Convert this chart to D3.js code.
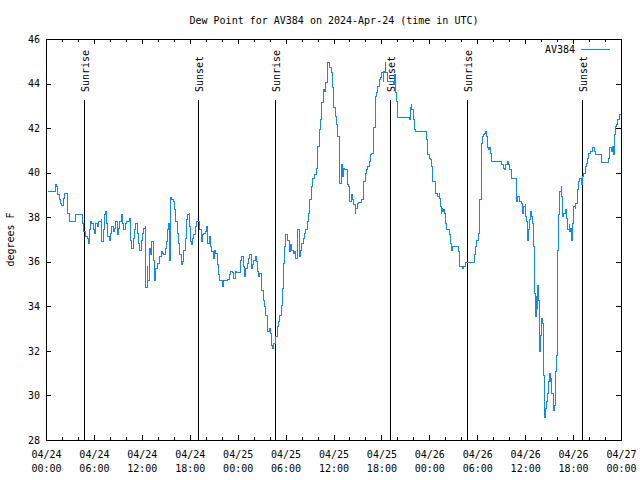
<!DOCTYPE html>
<html>
<head>
<meta charset="utf-8">
<script src="https://cdn.jsdelivr.net/npm/d3@7/dist/d3.min.js"></script>
<style>
  html, body { margin: 0; padding: 0; background: #fff; }
  svg { display: block; }
  text { font-family: "DejaVu Sans Mono", "Liberation Mono", monospace; font-size: 10px; fill: #000; }
</style>
</head>
<body>
<svg id="chart" width="640" height="480"></svg>
<script>
// ---- data ----
const chartTitle = "Dew Point for AV384 on 2024-Apr-24 (time in UTC)";
const yLabel = "degrees F";
const seriesName = "AV384";
const startTime = "2024-04-24T00:00:00Z";
const spanHours = 72;
const yTicks = [28, 30, 32, 34, 36, 38, 40, 42, 44, 46];
// sun events (hours after start)
const eventNames = ["Sunrise", "Sunset", "Sunrise", "Sunset", "Sunrise", "Sunset"];
const eventHours = [4.75, 19.03, 28.72, 43.07, 52.70, 67.12];
// [hours after start, dew point °F]
const dewPoint = [
[0.25,39.19],[1.00,39.19],[1.09,39.51],[1.25,39.40],[1.42,39.03],[1.59,38.80],[1.75,38.65],[1.92,38.53],[2.09,38.88],[2.25,39.10],[2.50,39.10],[2.59,38.65],[2.67,38.17],[2.84,37.82],[3.51,37.82],[3.59,38.13],[4.42,38.13],[4.51,37.75],[4.67,37.38],[4.84,37.15],[5.09,37.08],[5.26,36.85],[5.43,37.45],[5.51,37.82],[5.68,37.75],[5.84,37.45],[6.01,37.30],[6.18,37.75],[6.35,37.60],[6.51,37.82],[6.68,37.82],[6.85,37.90],[6.93,36.93],[7.10,37.45],[7.26,38.13],[7.35,38.28],[7.51,37.75],[7.68,37.15],[7.85,37.00],[8.01,37.30],[8.18,37.60],[8.35,37.38],[8.51,37.53],[8.68,37.82],[8.85,37.23],[9.02,37.53],[9.18,37.82],[9.35,38.13],[9.52,37.75],[9.68,37.45],[9.85,37.75],[10.02,37.82],[10.18,37.82],[10.35,37.98],[10.52,37.00],[10.69,36.63],[10.85,37.08],[11.02,37.45],[11.19,37.75],[11.35,37.30],[11.52,36.85],[11.69,36.55],[11.86,37.00],[12.02,37.30],[12.19,37.53],[12.36,37.60],
[12.44,34.87],[12.61,35.80],[12.69,35.20],[12.86,36.63],[13.02,36.33],[13.19,36.93],[13.36,36.10],[13.52,35.20],[13.69,35.73],[13.86,35.95],[14.02,35.95],[14.19,36.25],[14.36,36.48],[14.53,36.40],[14.69,36.33],[14.86,36.63],[15.03,36.93],[15.19,37.45],[15.28,37.75],[15.36,37.30],[15.44,36.10],[15.53,38.90],[15.69,38.80],[15.86,38.73],[16.03,38.35],[16.20,37.82],[16.36,37.30],[16.53,36.85],[16.70,36.33],[16.86,35.88],[17.03,36.03],[17.20,36.55],[17.36,37.08],[17.53,37.90],[17.70,38.13],[17.87,38.20],[17.95,37.60],[18.03,36.93],[18.12,36.78],[18.28,37.08],[18.45,37.23],[18.62,37.60],[18.78,37.82],[19.03,37.82],[19.20,37.45],
[19.37,36.93],[19.53,37.23],[19.70,37.30],[19.87,37.38],[20.04,37.60],[20.20,36.85],[20.37,37.15],[20.54,36.70],[20.70,36.48],[20.87,36.18],[21.04,36.55],[21.20,36.40],[21.37,35.88],[21.54,35.43],[21.71,35.20],[21.87,35.20],[22.04,34.90],[22.21,35.20],[22.37,35.20],[22.63,35.23],[22.87,35.43],[23.04,35.58],[23.29,35.53],[23.46,35.28],[23.62,35.58],[23.79,35.55],[24.13,35.55],[24.29,36.10],[24.46,36.25],[24.63,35.80],[24.79,35.35],[24.96,35.73],[25.13,35.95],[25.29,36.18],[25.46,36.33],[25.63,35.73],[25.80,35.88],[25.96,36.10],[26.13,36.25],[26.30,36.03],[26.38,35.58],[26.55,35.35],[26.71,35.50],[26.88,35.13],[26.97,34.75],[27.13,34.30],[27.30,34.00],[27.47,33.63],[27.63,33.25],[27.71,32.88],[27.88,33.03],[28.05,32.80],[28.13,32.28],[28.30,32.13],[28.38,32.35],[28.55,32.35],[28.72,32.65],[28.88,33.10],[29.05,33.33],[29.22,33.63],[29.39,34.08],[29.55,34.83],[29.64,35.95],[29.80,36.70],[29.97,37.23],[30.14,37.08],[30.22,37.00],[30.39,36.48],[30.55,36.78],[30.72,36.55],[30.89,36.40],[31.06,36.48],[31.22,36.18],[31.39,37.15],[31.47,37.45],[31.64,36.25],[31.81,36.55],[31.97,36.85],[32.14,37.08],[32.31,37.30],[32.47,37.45],[32.64,37.82],[32.81,38.20],[32.98,38.80],
[33.14,39.40],[33.31,39.78],[33.56,39.93],[33.81,40.23],[33.98,41.20],[34.14,41.95],[34.31,42.40],[34.48,43.15],[34.64,43.75],[34.81,43.68],[34.98,44.05],[35.15,44.95],[35.31,44.95],[35.48,44.73],[35.65,44.50],[35.81,43.83],[35.98,42.93],[36.15,42.55],[36.32,42.18],[36.48,41.65],[36.65,40.00],[36.73,39.55],
[36.90,40.15],[36.98,40.38],[37.07,39.85],[37.15,40.23],[37.32,40.15],[37.48,40.15],[37.65,39.48],[37.82,39.40],[37.90,38.95],[37.98,38.73],[38.15,39.03],[38.32,38.80],[38.48,38.58],[38.65,38.20],[38.73,38.43],[38.90,38.65],[39.07,38.68],[39.32,38.68],[39.49,38.80],[39.65,39.48],[39.74,39.63],[39.90,40.00],[40.07,40.15],[40.24,40.30],[40.40,40.53],[40.57,40.83],[40.74,40.90],[40.91,41.35],[40.99,42.03],[41.16,43.45],[41.32,43.60],[41.49,43.90],[41.66,44.20],[41.82,44.28],[41.99,44.50],[42.16,44.13],[42.24,44.58],[42.33,44.50],[42.41,44.95],[42.49,44.50],[42.66,44.13],[43.16,44.13],[43.49,43.98],[43.58,44.43],[43.66,43.60],[43.83,43.23],[43.99,42.48],[45.49,42.43],[45.58,42.93],[45.66,43.08],[45.75,42.85],[45.92,42.40],[46.08,41.95],[46.25,41.88],[47.50,41.88],[47.58,41.50],[47.75,40.83],[47.92,40.68],[48.08,40.60],[48.25,40.30],[48.34,39.63],[48.59,39.63],[48.75,39.10],[48.92,39.03],[49.00,38.95],[49.17,39.10],[49.25,38.88],[49.34,38.50],[49.42,38.20],[49.50,38.43],[49.59,38.28],[49.67,38.35],[49.84,38.20],[49.92,37.75],[50.09,37.45],[50.42,37.45],[50.50,37.23],[50.59,36.85],[50.67,36.63],[50.76,36.55],[50.84,36.73],[51.42,36.70],[51.59,36.48],[51.76,35.80],[52.09,35.73],[52.26,35.80],[52.43,35.98],
[53.51,35.98],[53.59,36.37],[53.68,36.70],[53.85,37.00],[54.01,37.00],[54.10,37.30],[54.18,37.82],[54.26,38.80],[54.43,40.45],[54.51,41.35],[54.60,41.65],[54.68,41.73],[54.85,41.80],[55.01,41.88],[55.10,41.65],[55.18,41.13],[55.35,41.05],[55.51,41.13],[55.60,40.90],[55.76,40.53],[56.85,40.53],[57.02,40.38],[57.18,40.23],[57.35,40.18],[57.52,40.38],[57.68,40.53],[57.85,40.38],[58.02,40.15],[58.19,39.78],[58.77,39.78],[58.85,38.73],[59.02,38.95],[59.19,38.88],[59.27,38.73],[59.44,38.65],[59.61,38.20],[59.77,38.50],[59.94,38.58],[60.02,38.05],[60.11,37.82],[60.19,37.60],[60.27,37.00],[60.36,37.45],[60.52,37.90],[60.61,38.28],[60.77,38.05],[60.86,37.75],[60.94,37.60],[61.02,36.70],
[61.11,34.60],[61.27,33.55],[61.36,34.45],[61.44,33.93],[61.53,34.98],[61.61,34.30],[61.69,32.73],[61.78,31.98],[61.86,32.73],[61.94,33.10],[62.03,33.48],[62.11,33.25],[62.19,32.88],[62.28,30.93],[62.36,29.05],[62.53,29.43],[62.61,29.73],[62.78,30.10],[62.86,30.63],[63.03,31.00],[63.11,30.63],[63.19,30.78],[63.28,30.10],[63.45,30.10],[63.53,29.35],[63.61,29.58],[63.70,30.10],[63.78,31.08],[63.86,31.83],[63.95,34.45],[64.03,36.55],[64.11,38.13],
[64.28,39.18],[64.45,39.40],[64.53,38.95],[64.62,38.05],[64.78,38.20],[64.95,38.28],[65.03,38.35],[65.12,37.98],[65.20,37.75],[65.28,37.45],[65.45,37.68],[65.53,37.38],[65.62,37.53],[65.70,37.15],[65.78,37.00],[65.87,37.75],[65.95,38.20],[66.03,38.50],[66.20,38.43],[66.28,38.65],[66.45,38.95],[66.53,39.25],[66.62,39.63],[66.79,39.78],[66.95,39.70],[67.04,39.48],[67.12,39.85],[67.29,40.00],[67.45,40.30],[67.62,40.45],[67.79,40.68],[67.87,40.90],[68.12,40.98],[68.37,41.17],[68.54,41.13],[68.62,40.98],[68.79,40.83],[69.29,40.83],[69.46,40.68],[69.54,40.48],[70.21,40.48],[70.38,40.68],[70.46,41.13],[70.63,41.17],[70.71,40.98],[70.88,41.20],[71.04,40.83],[71.13,41.73],[71.21,42.10],[71.38,42.18],[71.46,42.25],[71.54,42.40],[71.71,42.48],[71.79,42.63],[71.96,42.78]
];

// ---- chart ----
const svg = d3.select("#chart");
const t0 = new Date(startTime);
const hToDate = h => new Date(t0.getTime() + h * 3600e3);
const t1 = hToDate(spanHours);

const L = 46, R = 621, T = 39, B = 440;
const x = d3.scaleUtc().domain([t0, t1]).range([L, R]);
const y = d3.scaleLinear().domain([28, 46]).range([B, T]);

// title
svg.append("text").attr("x", (L + R) / 2 + 0.5).attr("y", 24)
  .attr("text-anchor", "middle").text(chartTitle);

// y label
svg.append("text").attr("transform", `translate(14,${(T + B) / 2}) rotate(-90)`)
  .attr("text-anchor", "middle").text(yLabel);

// minor x ticks (bottom & top)
const minor = d3.utcHour.every(2);
const major = d3.utcHour.every(6);
svg.append("g").attr("transform", `translate(0,${B})`).attr("shape-rendering", "crispEdges")
  .call(d3.axisBottom(x).ticks(minor).tickSizeInner(-3).tickSizeOuter(0).tickFormat(""))
  .call(g => g.select(".domain").remove());
svg.append("g").attr("transform", `translate(0,${T})`).attr("shape-rendering", "crispEdges")
  .call(d3.axisTop(x).ticks(minor).tickSizeInner(-3).tickSizeOuter(0).tickFormat(""))
  .call(g => g.select(".domain").remove());

// major x ticks
const fmtDay = d3.utcFormat("%m/%d"), fmtTime = d3.utcFormat("%H:%M");
const bottomAxis = svg.append("g").attr("transform", `translate(0,${B})`).attr("shape-rendering", "crispEdges")
  .call(d3.axisBottom(x).ticks(major).tickSizeInner(-5).tickSizeOuter(0).tickFormat(""))
  .call(g => g.select(".domain").remove());
bottomAxis.selectAll(".tick").each(function(d) {
  const t = d3.select(this).select("text").attr("y", null).attr("dy", null)
    .attr("fill", "#000").style("font-size", "10px")
    .style("font-family", '"DejaVu Sans Mono", monospace');
  t.append("tspan").attr("x", 0).attr("y", 17.5).text(fmtDay(d));
  t.append("tspan").attr("x", 0).attr("y", 32).text(fmtTime(d));
});
svg.append("g").attr("transform", `translate(0,${T})`).attr("shape-rendering", "crispEdges")
  .call(d3.axisTop(x).ticks(major).tickSizeInner(-5).tickSizeOuter(0).tickFormat(""))
  .call(g => g.select(".domain").remove());

// y axes
const leftAxis = svg.append("g").attr("transform", `translate(${L},0)`).attr("shape-rendering", "crispEdges")
  .call(d3.axisLeft(y).tickValues(yTicks).tickSizeInner(-5).tickSizeOuter(0).tickPadding(6).tickFormat(d3.format("d")))
  .call(g => g.select(".domain").remove());
leftAxis.selectAll(".tick text").attr("fill", "#000").style("font-size", "10px")
  .style("font-family", '"DejaVu Sans Mono", monospace');
svg.append("g").attr("transform", `translate(${R},0)`).attr("shape-rendering", "crispEdges")
  .call(d3.axisRight(y).tickValues(yTicks).tickSizeInner(-5).tickSizeOuter(0).tickFormat(""))
  .call(g => g.select(".domain").remove());

// sunrise / sunset markers
const ev = svg.append("g");
eventHours.forEach((h, i) => {
  const px = Math.round(x(hToDate(h))) + 0.5;
  ev.append("line").attr("x1", px).attr("x2", px).attr("y1", 100).attr("y2", B + 0.5)
    .attr("stroke", "#000").attr("stroke-width", 1).attr("shape-rendering", "crispEdges");
  ev.append("text").attr("transform", `translate(${px + 4.5},92) rotate(-90)`)
    .attr("text-anchor", "start").text(eventNames[i]);
});

// data line (stair-stepped, aliased like the reference)
const line = d3.line()
  .curve(d3.curveStepAfter)
  .x(d => x(hToDate(d[0])) + 0.5)
  .y(d => y(d[1]) + 0.5);
svg.append("path").datum(dewPoint)
  .attr("d", line).attr("fill", "none")
  .attr("stroke", "#0f87ff").attr("stroke-width", 1)
  .attr("shape-rendering", "crispEdges");

// legend
svg.append("text").attr("x", 575).attr("y", 53).attr("text-anchor", "end").text(seriesName);
svg.append("line").attr("x1", 581).attr("x2", 610).attr("y1", 49.5).attr("y2", 49.5)
  .attr("stroke", "#0f87ff").attr("stroke-width", 1).attr("shape-rendering", "crispEdges");

// border
svg.append("rect").attr("x", L + 0.5).attr("y", T + 0.5).attr("width", R - L).attr("height", B - T)
  .attr("fill", "none").attr("stroke", "#000").attr("stroke-width", 1).attr("shape-rendering", "crispEdges");
</script>
</body>
</html>
